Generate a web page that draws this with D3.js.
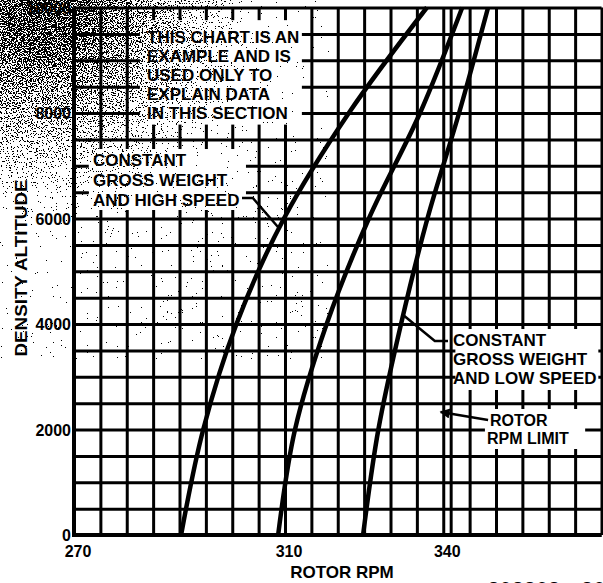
<!DOCTYPE html>
<html><head><meta charset="utf-8">
<script src="https://cdn.jsdelivr.net/npm/d3@7"></script>
<style>html,body{margin:0;padding:0;background:#fff;} svg{display:block;} text{font-family:"Liberation Sans",Arial,sans-serif;font-weight:bold;fill:#000;}</style>
</head><body>
<script>
// ---- data ----
const altitudes = [0, 2000, 4000, 6000, 8000, 10000];          // density altitude, ft
const rpmHighSpeed = [290.3, 294.5, 300.8, 309.8, 322.1, 336.9]; // constant GW, high speed
const rpmMidCurve  = [308.7, 311.9, 317.9, 325.9, 335.6, 343.6]; // unlabelled middle curve
const rpmLowSpeed  = [324.8, 327.7, 332.0, 337.0, 343.0, 348.5]; // constant GW, low speed
const rpmLimit = 341.5;
const yTickValues = [0, 2000, 4000, 6000, 8000, 10000];
const xTickValues = [270, 310, 340];
const xLabel = "ROTOR RPM";
const yLabel = "DENSITY ALTITUDE";

const W = 603, H = 583;
const svg = d3.select("body").append("svg").attr("width", W).attr("height", H);
svg.append("rect").attr("width", W).attr("height", H).attr("fill", "#fff");
const defs = svg.append("defs");

const x = d3.scaleLinear().domain([270, 370]).range([74, 601.5]);
const y = d3.scaleLinear().domain([0, 10000]).range([535, 7.5]);

// ---- grid ----
const gx = svg.append("g").attr("transform", `translate(0,${y(0)})`)
  .call(d3.axisBottom(x).tickValues(d3.range(270, 371, 5)).tickSize(-(y(0) - y(10000))).tickFormat(""));
gx.select(".domain").remove();
gx.selectAll("line").attr("stroke", "#000").attr("stroke-width", 3);
const gy = svg.append("g").attr("transform", `translate(${x(270)},0)`)
  .call(d3.axisLeft(y).tickValues(d3.range(0, 10001, 500)).tickSize(-(x(370) - x(270))).tickFormat(""));
gy.select(".domain").remove();
gy.selectAll("line").attr("stroke", "#000").attr("stroke-width", 3);
svg.append("line").attr("x1", x(270)).attr("x2", x(370)).attr("y1", y(0)).attr("y2", y(0)).attr("stroke", "#000").attr("stroke-width", 4);
svg.append("line").attr("x1", x(270)).attr("x2", x(270)).attr("y1", y(0) + 2).attr("y2", y(10000)).attr("stroke", "#000").attr("stroke-width", 4);

// ---- white annotation boxes (grid stubs remain around them) ----
const boxes = [
  {r0: 282.5, r1: 313.2, a0: 9760, a1: 7780},
  {r0: 272.8, r1: 302.6, a0: 7317, a1: 6161},
  {r0: 342.3, r1: 369.4, a0: 3905, a1: 2749},
  {r0: 347.9, r1: 366.9, a0: 2389, a1: 1630}
];
svg.append("g").selectAll("rect").data(boxes).join("rect")
  .attr("x", d => x(d.r0)).attr("y", d => y(d.a0))
  .attr("width", d => x(d.r1) - x(d.r0)).attr("height", d => y(d.a1) - y(d.a0))
  .attr("fill", "#fff");

// rpm limit line
svg.append("line").attr("x1", x(rpmLimit)).attr("x2", x(rpmLimit)).attr("y1", y(0)).attr("y2", y(10000))
  .attr("stroke", "#000").attr("stroke-width", 3);

// ---- curves ----
const line = d3.line().x(d => x(d[0])).y(d => y(d[1])).curve(d3.curveCatmullRom.alpha(0.5));
[rpmHighSpeed, rpmMidCurve, rpmLowSpeed].forEach(s => {
  svg.append("path").attr("d", line(s.map((r, i) => [r, altitudes[i]])))
    .attr("fill", "none").attr("stroke", "#000").attr("stroke-width", 4.5);
});

// ---- leaders ----
const lead = d3.line().x(d => x(d[0])).y(d => y(d[1]));
svg.append("path").attr("d", lead([[301.85, 6389], [303.9, 6389], [308.67, 5839]]))
  .attr("fill", "none").attr("stroke", "#000").attr("stroke-width", 2.5);
svg.append("path").attr("d", lead([[332.4, 4171], [338.4, 3678], [340.9, 3678]]))
  .attr("fill", "none").attr("stroke", "#000").attr("stroke-width", 2.5);
defs.append("marker").attr("id", "ah").attr("viewBox", "0 0 10 10")
  .attr("refX", 9).attr("refY", 5).attr("markerWidth", 5).attr("markerHeight", 4).attr("orient", "auto")
  .append("path").attr("d", "M0,0L10,5L0,10z").attr("fill", "#000");
svg.append("path").attr("d", lead([[348.5, 2180], [339.5, 2332]]))
  .attr("fill", "none").attr("stroke", "#000").attr("stroke-width", 2.5).attr("marker-end", "url(#ah)");

// ---- scan speckle in the top-left corner ----
const rg = defs.append("radialGradient").attr("id", "fade").attr("gradientUnits", "userSpaceOnUse")
  .attr("cx", 40).attr("cy", 0).attr("r", 230);
[[0, 0.645], [0.22, 0.605], [0.45, 0.535], [0.7, 0.465], [1, 0.36]].forEach(([o, a]) =>
  rg.append("stop").attr("offset", o).attr("stop-color", "#000").attr("stop-opacity", a));
const f = defs.append("filter").attr("id", "speck").attr("filterUnits", "userSpaceOnUse")
  .attr("x", 0).attr("y", 0).attr("width", 330).attr("height", 360)
  .attr("color-interpolation-filters", "sRGB");
f.append("feTurbulence").attr("type", "fractalNoise").attr("baseFrequency", 0.8).attr("numOctaves", 2).attr("seed", 7).attr("result", "n");
f.append("feColorMatrix").attr("in", "n").attr("type", "matrix")
  .attr("values", "0 0 0 0 0  0 0 0 0 0  0 0 0 0 0  1 0 0 0 0").attr("result", "na");
f.append("feComposite").attr("in", "na").attr("in2", "SourceGraphic").attr("operator", "arithmetic")
  .attr("k1", 0).attr("k2", 0.5).attr("k3", 0.6).attr("k4", 0).attr("result", "c");
f.append("feComponentTransfer").attr("in", "c").attr("result", "t")
  .append("feFuncA").attr("type", "discrete").attr("tableValues", "0 0 0 0 0 0 1 1 1 1");
f.append("feColorMatrix").attr("in", "t").attr("type", "matrix")
  .attr("values", "0 0 0 0 0  0 0 0 0 0  0 0 0 0 0  0 0 0 1 0");
svg.append("rect").attr("x", 0).attr("y", 0).attr("width", 330).attr("height", 360)
  .attr("fill", "url(#fade)").attr("filter", "url(#speck)");

// ---- annotation texts ----
const texts = [
  {t: "THIS CHART IS AN", x: 147, y: 43, s: 17}, {t: "EXAMPLE AND IS", x: 147, y: 62, s: 17},
  {t: "USED ONLY TO", x: 147, y: 81, s: 17}, {t: "EXPLAIN DATA", x: 147, y: 100, s: 17},
  {t: "IN THIS SECTION", x: 147, y: 119, s: 17},
  {t: "CONSTANT", x: 93, y: 166, s: 17}, {t: "GROSS WEIGHT", x: 93, y: 186, s: 17}, {t: "AND HIGH SPEED", x: 93, y: 206, s: 17},
  {t: "CONSTANT", x: 453, y: 346, s: 17}, {t: "GROSS WEIGHT", x: 453, y: 365, s: 17}, {t: "AND LOW SPEED", x: 453, y: 384, s: 17},
  {t: "ROTOR", x: 490, y: 426, s: 16}, {t: "RPM LIMIT", x: 487, y: 444, s: 16}
];
svg.append("g").selectAll("text").data(texts).join("text")
  .attr("x", d => d.x).attr("y", d => d.y).attr("font-size", d => d.s).text(d => d.t);

// ---- axis labels ----
svg.append("g").selectAll("text").data(yTickValues).join("text")
  .attr("x", 71).attr("y", d => y(d) + 6).attr("text-anchor", "end").attr("font-size", 16)
  .attr("fill", d => d === 10000 ? "#444" : "#000").text(d => d);
svg.append("g").selectAll("text").data(xTickValues).join("text")
  .attr("x", d => x(d) + 4).attr("y", 557).attr("text-anchor", "middle").attr("font-size", 16).text(d => d);
svg.append("text").attr("x", 342).attr("y", 578).attr("text-anchor", "middle").attr("font-size", 17).text(xLabel);
svg.append("text").attr("transform", "translate(27,268) rotate(-90)").attr("text-anchor", "middle")
  .attr("font-size", 17).attr("textLength", 177).attr("lengthAdjust", "spacingAndGlyphs").text(yLabel);
svg.append("text").attr("x", 488).attr("y", 596).attr("font-size", 20).attr("letter-spacing", 1).text("202202 - 20");
</script>
</body></html>
